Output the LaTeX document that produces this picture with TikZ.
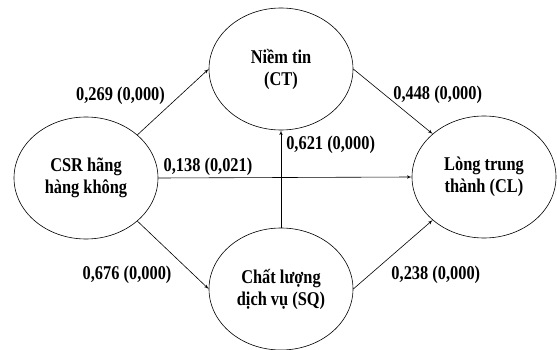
\documentclass[tikz,border=0pt]{standalone}
\usepackage{fontspec}
\setmainfont{Liberation Serif}[FakeStretch=0.84]
\usepackage{tikz}
\usetikzlibrary{shapes.geometric,arrows}
\tikzset{%
    construct/.style = {draw, line width=0.6pt, ellipse, inner sep=0pt, align=center,
                        minimum width=144pt, minimum height=122pt,
                        font=\bfseries\fontsize{19.5}{22}\selectfont},
    coef/.style = {inner sep=2pt, font=\bfseries\fontsize{19.5}{22}\selectfont},
}

\begin{document}
\begin{tikzpicture}[auto, x=1pt, y=-1pt, line width=0.6pt, >=latex']
        \useasboundingbox (0,0) rectangle (557,350);
        \draw
            node at (86,178) [construct] (csr)
            {
                CSR hãng\\
                hàng không
            }
            node at (281,69) [construct] (ct)
            {
                Niềm tin\\
                (CT)
            }
            node at (281,289) [construct] (sq)
            {
                Chất lượng\\
                dịch vụ (SQ)
            }
            node at (484,177) [construct] (cl)
            {
                Lòng trung\\
                thành (CL)
            };

        \draw[->](csr.40) -- node[coef, pos=.6, left=13pt] (b_csr_ct)
            {0,269 (0,000)} (ct.west);
        \draw[->](ct.east) -- node[coef, pos=.4, right=6pt] (b_ct_cl)
            {0,448 (0,000)} (cl.140);
        \draw[->](sq.north) -- node[coef, pos=.85, right=3pt] (b_sq_ct)
            {0,621 (0,000)} (ct.south);
        \draw[->](csr.east) -- node[coef, pos=0, above right, xshift=3pt] (b_csr_cl)
            {0,138 (0,021)} (cl.west);
        \draw[->](csr.320) -- node[coef, pos=.79, left=20pt] (b_csr_sq)
            {0,676 (0,000)} (sq.west);
        \draw[->](sq.east) -- node[coef, pos=.2, right=20pt] (b_sq_cl)
            {0,238 (0,000)} (cl.220);
    \end{tikzpicture}
\end{document}
